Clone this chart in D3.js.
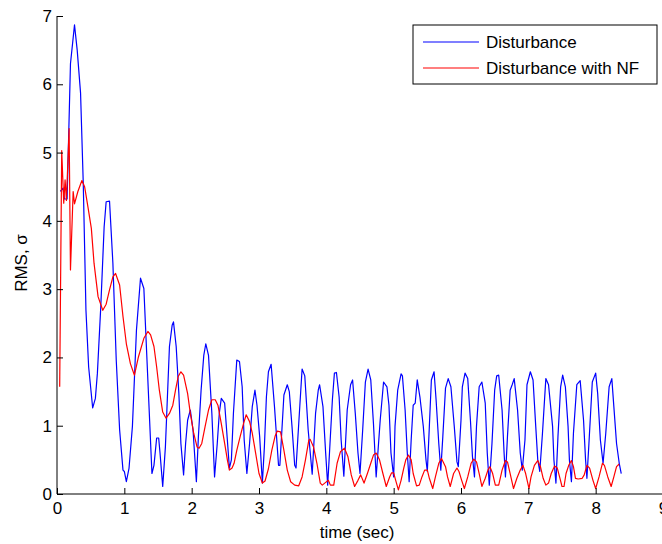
<!DOCTYPE html>
<html>
<head>
<meta charset="utf-8">
<script src="https://cdn.jsdelivr.net/npm/d3@7"></script>
<style>
  body { margin: 0; background: #fff; }
  svg { display: block; font-family: Arial, "Liberation Sans", sans-serif; }
</style>
</head>
<body>
<script>
// values: [time (sec), RMS]
const disturbance = [
  [0.05,4.43],[0.09,4.48],[0.11,4.32],[0.15,4.32],[0.20,6.30],[0.26,6.87],[0.30,6.50],[0.35,5.87],
  [0.39,4.55],[0.43,2.69],[0.47,1.86],[0.53,1.26],[0.57,1.40],[0.60,1.77],[0.65,2.74],[0.70,3.91],
  [0.73,4.28],[0.78,4.29],[0.83,3.38],[0.88,1.96],[0.93,0.94],[0.98,0.35],[1.00,0.33],[1.03,0.18],
  [1.07,0.38],[1.12,0.99],[1.18,2.40],[1.24,3.16],[1.29,3.01],[1.41,0.30],[1.44,0.42],[1.48,0.82],
  [1.51,0.82],[1.53,0.60],[1.57,0.11],[1.61,0.69],[1.63,1.18],[1.67,2.16],[1.71,2.47],[1.73,2.52],
  [1.77,2.16],[1.81,1.47],[1.84,0.74],[1.88,0.28],[1.91,0.74],[1.94,1.08],[1.98,1.23],[2.02,0.94],
  [2.07,0.18],[2.10,0.84],[2.14,1.52],[2.18,2.03],[2.21,2.20],[2.25,2.03],[2.30,1.18],[2.34,0.25],
  [2.38,0.74],[2.41,1.18],[2.44,1.40],[2.49,1.33],[2.53,0.79],[2.56,0.38],[2.59,0.50],[2.62,1.18],
  [2.67,1.96],[2.71,1.94],[2.75,1.57],[2.78,0.79],[2.82,0.30],[2.86,0.74],[2.90,1.28],[2.94,1.52],
  [2.97,1.30],[3.01,0.84],[3.05,0.16],[3.08,0.69],[3.11,1.42],[3.14,1.79],[3.18,1.90],[3.23,1.28],
  [3.29,0.42],[3.31,0.42],[3.37,1.45],[3.42,1.60],[3.45,1.50],[3.49,0.99],[3.53,0.42],[3.55,0.38],
  [3.59,1.03],[3.64,1.83],[3.68,1.73],[3.73,0.94],[3.79,0.29],[3.84,1.18],[3.88,1.52],[3.90,1.60],
  [3.95,1.28],[3.99,0.60],[4.02,0.13],[4.05,0.66],[4.09,1.38],[4.12,1.77],[4.15,1.78],[4.19,1.42],
  [4.22,0.79],[4.26,0.26],[4.31,1.23],[4.36,1.60],[4.39,1.67],[4.43,1.18],[4.47,0.60],[4.50,0.30],
  [4.54,0.94],[4.58,1.64],[4.62,1.83],[4.66,1.67],[4.70,1.03],[4.74,0.25],[4.80,1.08],[4.85,1.64],
  [4.90,1.57],[4.93,1.30],[4.96,0.60],[5.00,0.25],[5.02,0.99],[5.06,1.52],[5.11,1.76],[5.13,1.73],
  [5.17,1.23],[5.20,0.64],[5.23,0.18],[5.26,0.79],[5.29,1.30],[5.32,1.33],[5.35,1.67],[5.39,1.42],
  [5.44,0.99],[5.48,0.50],[5.50,0.33],[5.53,0.99],[5.56,1.67],[5.60,1.79],[5.63,1.38],[5.67,0.74],
  [5.70,0.35],[5.73,0.84],[5.77,1.55],[5.81,1.69],[5.85,1.57],[5.90,0.99],[5.94,0.47],[5.96,0.40],
  [6.00,1.08],[6.02,1.57],[6.06,1.77],[6.10,1.69],[6.14,1.08],[6.17,0.55],[6.20,0.25],[6.23,0.99],
  [6.27,1.57],[6.31,1.64],[6.36,1.33],[6.39,0.60],[6.42,0.13],[6.46,0.74],[6.50,1.52],[6.53,1.73],
  [6.56,1.74],[6.61,1.23],[6.64,0.60],[6.66,0.25],[6.69,0.84],[6.73,1.52],[6.76,1.60],[6.79,1.69],
  [6.84,1.23],[6.88,0.60],[6.91,0.35],[6.95,0.79],[6.98,1.60],[7.03,1.79],[7.07,1.67],[7.11,0.99],
  [7.14,0.50],[7.17,0.33],[7.21,0.89],[7.26,1.69],[7.30,1.60],[7.36,0.99],[7.38,0.50],[7.41,0.16],
  [7.44,0.84],[7.48,1.57],[7.51,1.74],[7.55,1.57],[7.59,0.99],[7.61,0.50],[7.64,0.18],[7.67,0.89],
  [7.72,1.60],[7.77,1.66],[7.82,1.08],[7.85,0.50],[7.87,0.23],[7.90,0.74],[7.95,1.64],[8.00,1.77],
  [8.03,1.47],[8.07,0.79],[8.11,0.45],[8.15,0.89],[8.20,1.57],[8.24,1.69],[8.27,1.28],[8.31,0.74],
  [8.35,0.45],[8.38,0.30]
];

const disturbanceNF = [
  [0.04,1.57],[0.07,5.03],[0.10,4.26],[0.12,4.60],[0.14,4.30],[0.18,5.35],[0.20,3.28],[0.24,4.43],
  [0.26,4.25],[0.31,4.43],[0.37,4.59],[0.41,4.50],[0.46,4.20],[0.51,3.89],[0.55,3.38],[0.61,2.89],
  [0.68,2.69],[0.73,2.78],[0.78,2.99],[0.83,3.18],[0.87,3.23],[0.93,3.06],[0.98,2.60],[1.03,2.20],
  [1.09,1.91],[1.15,1.74],[1.21,2.01],[1.29,2.28],[1.35,2.38],[1.39,2.33],[1.44,2.16],[1.48,1.86],
  [1.52,1.52],[1.57,1.20],[1.62,1.11],[1.67,1.18],[1.72,1.30],[1.76,1.52],[1.80,1.72],[1.84,1.79],
  [1.88,1.74],[1.94,1.47],[1.98,1.18],[2.03,0.89],[2.08,0.69],[2.11,0.67],[2.15,0.74],[2.20,0.99],
  [2.25,1.23],[2.30,1.38],[2.35,1.38],[2.39,1.30],[2.44,1.03],[2.49,0.74],[2.53,0.50],[2.56,0.35],
  [2.60,0.38],[2.63,0.45],[2.67,0.64],[2.72,0.84],[2.77,1.03],[2.81,1.16],[2.86,1.06],[2.90,0.89],
  [2.95,0.60],[3.00,0.30],[3.05,0.16],[3.09,0.19],[3.14,0.37],[3.19,0.64],[3.24,0.85],[3.27,0.92],
  [3.32,0.91],[3.37,0.64],[3.42,0.35],[3.47,0.18],[3.53,0.13],[3.59,0.12],[3.64,0.25],[3.69,0.50],
  [3.74,0.79],[3.76,0.80],[3.81,0.69],[3.86,0.45],[3.91,0.16],[3.94,0.13],[3.99,0.17],[4.03,0.20],
  [4.06,0.13],[4.11,0.13],[4.16,0.45],[4.21,0.62],[4.27,0.67],[4.32,0.55],[4.37,0.28],[4.42,0.11],
  [4.47,0.20],[4.51,0.28],[4.56,0.16],[4.61,0.30],[4.66,0.45],[4.70,0.57],[4.74,0.60],[4.79,0.50],
  [4.84,0.30],[4.89,0.11],[4.94,0.25],[4.97,0.31],[5.00,0.31],[5.03,0.20],[5.07,0.06],[5.11,0.20],
  [5.15,0.38],[5.18,0.50],[5.22,0.57],[5.26,0.50],[5.29,0.30],[5.34,0.12],[5.38,0.13],[5.42,0.25],
  [5.46,0.35],[5.50,0.35],[5.53,0.23],[5.58,0.08],[5.62,0.25],[5.67,0.45],[5.71,0.52],[5.77,0.40],
  [5.80,0.25],[5.84,0.11],[5.89,0.30],[5.94,0.38],[5.97,0.33],[6.01,0.20],[6.05,0.08],[6.10,0.25],
  [6.15,0.45],[6.19,0.51],[6.23,0.47],[6.27,0.30],[6.31,0.11],[6.36,0.23],[6.40,0.35],[6.43,0.40],
  [6.47,0.30],[6.51,0.13],[6.56,0.13],[6.61,0.35],[6.66,0.49],[6.69,0.47],[6.73,0.30],[6.78,0.08],
  [6.83,0.23],[6.88,0.35],[6.92,0.42],[6.96,0.30],[7.01,0.08],[7.04,0.25],[7.09,0.42],[7.14,0.49],
  [7.18,0.40],[7.22,0.23],[7.26,0.13],[7.30,0.16],[7.34,0.30],[7.39,0.41],[7.43,0.38],[7.47,0.23],
  [7.50,0.11],[7.53,0.11],[7.56,0.30],[7.60,0.42],[7.64,0.49],[7.67,0.40],[7.70,0.23],[7.74,0.22],
  [7.80,0.23],[7.83,0.28],[7.87,0.42],[7.91,0.38],[7.96,0.20],[8.00,0.08],[8.05,0.25],[8.10,0.45],
  [8.13,0.42],[8.18,0.25],[8.23,0.11],[8.27,0.25],[8.31,0.40],[8.35,0.44]
];

const xTicks = [0, 1, 2, 3, 4, 5, 6, 7, 8, 9];
const yTicks = [0, 1, 2, 3, 4, 5, 6, 7];
const seriesNames = ["Disturbance", "Disturbance with NF"];
const seriesColors = ["#0000ff", "#ff0000"];

const width = 662, height = 544;
const margin = {top: 16, right: -1, bottom: 50, left: 57};

const svg = d3.select("body").append("svg")
    .attr("width", width)
    .attr("height", height);

const x = d3.scaleLinear()
    .domain([0, 9])
    .range([margin.left, width - margin.right]);

const y = d3.scaleLinear()
    .domain([0, 7])
    .range([height - margin.bottom, margin.top]);

const line = d3.line()
    .x(d => x(d[0]))
    .y(d => y(d[1]));

// series
[disturbance, disturbanceNF].forEach((data, i) => {
  svg.append("path")
      .datum(data)
      .attr("fill", "none")
      .attr("stroke", seriesColors[i])
      .attr("stroke-width", 1.2)
      .attr("stroke-linejoin", "round")
      .attr("d", line);
});

// axes, matlab style: ticks pointing inward
const xAxis = g => g
    .attr("transform", `translate(0,${y(0)})`)
    .call(d3.axisBottom(x).tickValues(xTicks).tickSize(-6).tickPadding(8).tickFormat(d3.format("d")))
    .call(g => g.select(".domain").attr("d", `M${x(0)},0H${width}`));

const yAxis = g => g
    .attr("transform", `translate(${x(0)},0)`)
    .call(d3.axisLeft(y).tickValues(yTicks).tickSize(-6).tickPadding(5).tickFormat(d3.format("d")))
    .call(g => g.select(".domain").attr("d", `M0,${y(7)}V${y(0)}`));

svg.append("g").call(xAxis);
svg.append("g").call(yAxis);

svg.selectAll(".tick text")
    .attr("font-size", 17)
    .attr("font-family", "Arial, 'Liberation Sans', sans-serif")
    .attr("fill", "#000");
svg.selectAll(".tick line, .domain").attr("stroke", "#000");

// axis titles
svg.append("text")
    .attr("x", (x(0) + x(9)) / 2 - 3)
    .attr("y", 538)
    .attr("text-anchor", "middle")
    .attr("font-size", 17)
    .text("time (sec)");

svg.append("text")
    .attr("transform", `translate(27,${(y(0) + y(7)) / 2 + 8}) rotate(-90)`)
    .attr("text-anchor", "middle")
    .attr("font-size", 17)
    .text("RMS, σ");

// legend
const legend = svg.append("g")
    .attr("transform", "translate(413,25)");

legend.append("rect")
    .attr("width", 244)
    .attr("height", 59)
    .attr("fill", "#fff")
    .attr("stroke", "#000");

seriesNames.forEach((name, i) => {
  const row = legend.append("g")
      .attr("transform", `translate(0,${17 + i * 26})`);
  row.append("line")
      .attr("x1", 10).attr("x2", 66)
      .attr("stroke", seriesColors[i])
      .attr("stroke-width", 1.2);
  row.append("text")
      .attr("x", 73)
      .attr("dy", "0.35em")
      .attr("font-size", 17)
      .text(name);
});
</script>
</body>
</html>
